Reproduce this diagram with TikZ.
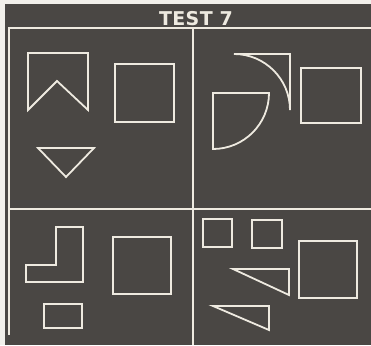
\documentclass[tikz,border=0pt]{standalone}
\usepackage{fontspec}
\usetikzlibrary{positioning}
\newfontfamily\titlefont[LetterSpace=2]{DejaVu Sans}
\definecolor{boardgray}{RGB}{74,71,68}
\definecolor{chalkwhite}{RGB}{238,234,224}
\definecolor{papercream}{RGB}{242,240,235}

\begin{document}
\begin{tikzpicture}[x=1pt, y=-1pt,
    figure/.style={draw=chalkwhite, line width=1.8pt, line join=miter},
    rule/.style={draw=chalkwhite, line width=1.3pt}]
        \fill[papercream] (0,0) rectangle (371,345);
        \fill[boardgray] (5,4) rectangle (371,345);
        \useasboundingbox (0,0) rectangle (371,345);
        \node[text=chalkwhite, font=\titlefont\bfseries\fontsize{19}{19}\selectfont, inner sep=0pt] (title) at (196,18.5) {TEST 7};
        % frame
        \draw[rule] (9,335) -- (9,28) -- (371,28);
        \draw[rule] (193,28) -- (193,345);
        \draw[rule] (9,209) -- (371,209);
        % top left
        \draw[figure] (28,53) -- (88,53) -- (88,110) -- (57,81) -- (28,110) -- cycle;
        \draw[figure] (115,64) rectangle (174,122);
        \draw[figure] (38,148) -- (94,148) -- (66,177) -- cycle;
        % top right
        \draw[figure] (213,93) -- (269,93) arc[start angle=0, end angle=90, radius=56] -- cycle;
        \draw[figure] (234,54) -- (290,54) -- (290,110) arc[start angle=0, end angle=-90, radius=56] -- cycle;
        \draw[figure] (301,68) rectangle (361,123);
        % bottom left
        \draw[figure] (56,227) -- (83,227) -- (83,282) -- (26,282) -- (26,265) -- (56,265) -- cycle;
        \draw[figure] (113,237) rectangle (171,294);
        \draw[figure] (44,304) rectangle (82,328);
        % bottom right
        \draw[figure] (203,219) rectangle (232,247);
        \draw[figure] (252,220) rectangle (282,248);
        \draw[figure] (299,241) rectangle (357,298);
        \draw[figure] (233,269) -- (289,269) -- (289,295) -- cycle;
        \draw[figure] (213,306) -- (269,306) -- (269,330) -- cycle;
    \end{tikzpicture}
\end{document}
